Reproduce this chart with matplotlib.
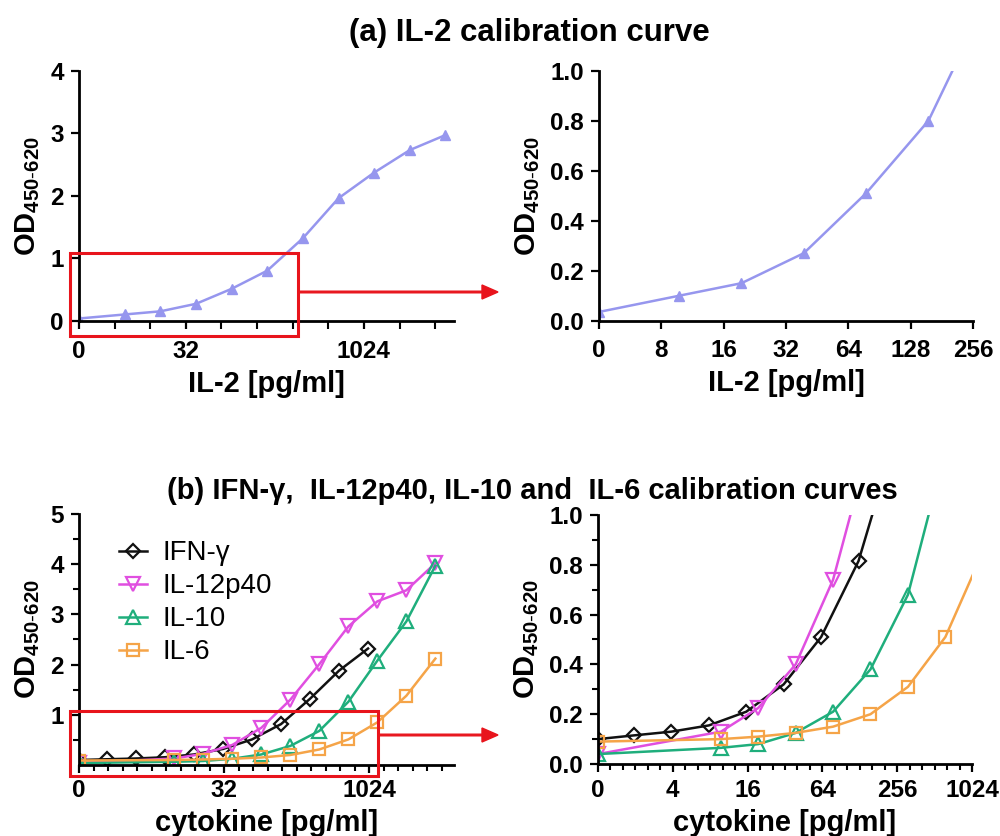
import numpy as np
import matplotlib
matplotlib.use("Agg")
import matplotlib.pyplot as plt
from matplotlib.patches import Rectangle, FancyArrow
from matplotlib.ticker import FixedLocator, NullFormatter

plt.rcParams['font.family'] = ['Liberation Sans', 'DejaVu Sans']
plt.rcParams['mathtext.fontset'] = 'custom'
plt.rcParams['mathtext.rm'] = 'Liberation Sans'
plt.rcParams['mathtext.bf'] = 'Liberation Sans:bold'

# IL-2 standard curve
il2_conc = [0, 9.77, 19.5, 39, 78, 156, 312.5, 625, 1250, 2500, 5000]
il2_od = [0.035, 0.10, 0.15, 0.27, 0.51, 0.80, 1.32, 1.96, 2.37, 2.73, 2.97]

# IFN-g, IL-12p40, IL-10, IL-6 standard curves
ifng_conc = [0, 1.95, 3.9, 7.8, 15.6, 31.25, 62.5, 125, 250, 500, 1000]
ifng_od = [0.10, 0.115, 0.13, 0.155, 0.21, 0.32, 0.51, 0.815, 1.32, 1.88, 2.32]
cyt_conc = [0, 9.77, 19.5, 39, 78, 156, 312.5, 625, 1250, 2500, 5000]
il12_od = [0.04, 0.13, 0.225, 0.40, 0.74, 1.30, 2.01, 2.76, 3.26, 3.48, 4.02]
il10_od = [0.04, 0.065, 0.08, 0.125, 0.21, 0.38, 0.68, 1.26, 2.08, 2.86, 3.97]
il6_od = [0.09, 0.10, 0.11, 0.125, 0.15, 0.20, 0.31, 0.51, 0.85, 1.38, 2.12]

series_names = ["IFN-\u03b3", "IL-12p40", "IL-10", "IL-6"]

IL2_COLOR = "#9696ee"
COLORS = ["#111111", "#e04fe0", "#1fae7c", "#f5a448"]
MARKERS = ["D", "v", "^", "s"]
MSIZES = [7, 10, 10, 8.5]

TICK_FS = 17.5
LABEL_FS = 21
YLABEL = r"$\mathbf{OD}_{\mathbf{450\text{-}620}}$"


# log2 axis where 0 is drawn at the position of `zero_at`
def set_log2_axis(ax, zero_at, xmax, majors, minors, minor_len):
  fwd = lambda x: np.log2(np.maximum(x, zero_at))
  inv = lambda y: 2.0 ** y
  ax.set_xscale('function', functions=(fwd, inv))
  ax.set_xlim(0, xmax)
  ax.xaxis.set_major_locator(FixedLocator(majors))
  ax.set_xticklabels([str(m) for m in majors])
  ax.xaxis.set_minor_locator(FixedLocator([m for m in minors if m not in majors]))
  ax.xaxis.set_minor_formatter(NullFormatter())
  ax.tick_params(axis='x', which='minor', length=minor_len, width=1.5)


def style_axes(ax, xlabel, xpad):
  for s in ['top', 'right']:
    ax.spines[s].set_visible(False)
  for s in ['left', 'bottom']:
    ax.spines[s].set_linewidth(2)
  ax.tick_params(which='major', length=6, width=1.6, labelsize=TICK_FS)
  ax.tick_params(axis='x', which='major', pad=xpad)
  ax.tick_params(axis='y', which='major', pad=5)
  ax.tick_params(axis='y', which='minor', length=4, width=1.5)
  for lab in ax.get_xticklabels() + ax.get_yticklabels():
    lab.set_fontweight('bold')
  ax.set_xlabel(xlabel, fontsize=LABEL_FS, fontweight='bold', labelpad=5)
  ax.set_ylabel(YLABEL, fontsize=LABEL_FS, labelpad=6)


fig = plt.figure(figsize=(10, 8.36), dpi=100)
ax1 = fig.add_axes([0.079, 0.6164, 0.375, 0.299])
ax2 = fig.add_axes([0.599, 0.6164, 0.374, 0.299])
ax3 = fig.add_axes([0.079, 0.0849, 0.375, 0.3003])
ax4 = fig.add_axes([0.598, 0.0861, 0.374, 0.2979])

# (a) full IL-2 curve
for ax in [ax1, ax2]:
  ax.plot(il2_conc, il2_od, '-^', color=IL2_COLOR, lw=1.8, ms=7, mec=IL2_COLOR, mfc=IL2_COLOR)
set_log2_axis(ax1, 4, 2 ** 12.53, [0, 32, 1024], 2.0 ** np.arange(3, 13), 6)
ax1.set_ylim(0, 4)
ax1.yaxis.set_major_locator(FixedLocator([0, 1, 2, 3, 4]))
style_axes(ax1, "IL-2 [pg/ml]", 8)

set_log2_axis(ax2, 4, 256, [0, 8, 16, 32, 64, 128, 256], [], 6)
ax2.set_ylim(0, 1.0)
ax2.yaxis.set_major_locator(FixedLocator(np.arange(0, 1.01, 0.2)))
ax2.set_yticklabels(["%.1f" % v for v in np.arange(0, 1.01, 0.2)])
style_axes(ax2, "IL-2 [pg/ml]", 7)

# (b) other cytokines
all_od = [ifng_od, il12_od, il10_od, il6_od]
all_conc = [ifng_conc, cyt_conc, cyt_conc, cyt_conc]
for ax in [ax3, ax4]:
  for conc, od, name, c, m, ms in zip(all_conc, all_od, series_names, COLORS, MARKERS, MSIZES):
    ax.plot(conc, od, '-', marker=m, color=c, lw=1.8, ms=ms, mfc='none', mec=c, mew=1.6, label=name)

set_log2_axis(ax3, 1, 2 ** 12.93, [0, 32, 1024], 2.0 ** (np.arange(1, 26) / 2.0), 4)
ax3.set_ylim(0, 5)
ax3.yaxis.set_major_locator(FixedLocator([1, 2, 3, 4, 5]))
ax3.yaxis.set_minor_locator(FixedLocator(np.arange(0.5, 5, 1.0)))
style_axes(ax3, "cytokine [pg/ml]", 4)
ax3.legend(loc='upper left', bbox_to_anchor=(0.07, 0.95), frameon=False, fontsize=20,
           handlelength=1.0, handletextpad=0.55, labelspacing=0.25, borderpad=0)

set_log2_axis(ax4, 1, 1024, [0, 4, 16, 64, 256, 1024], 2.0 ** (np.arange(1, 31) / 3.0), 4)
ax4.set_ylim(0, 1.0)
ax4.yaxis.set_major_locator(FixedLocator(np.arange(0, 1.01, 0.2)))
ax4.set_yticklabels(["%.1f" % v for v in np.arange(0, 1.01, 0.2)])
ax4.yaxis.set_minor_locator(FixedLocator(np.arange(0.1, 1.0, 0.2)))
style_axes(ax4, "cytokine [pg/ml]", 5)

# panel titles
fig.text(0.529, 0.960, "(a) IL-2 calibration curve", ha='center', va='center',
         fontsize=22.5, fontweight='bold')
fig.text(0.532, 0.413, "(b) IFN-\u03b3,  IL-12p40, IL-10 and  IL-6 calibration curves",
         ha='center', va='center', fontsize=21, fontweight='bold')

# zoom boxes and arrows (figure coords)
RED = "#e8141c"
W, H = 1000.0, 836.0
def zoom_box(x0, x1, ytop, ybot, yarrow, xend):
  fig.add_artist(Rectangle((x0 / W, 1 - ybot / H), (x1 - x0) / W, (ybot - ytop) / H,
                           transform=fig.transFigure, fill=False, ec=RED, lw=2.2))
  fig.add_artist(FancyArrow(x1 / W, 1 - yarrow / H, (xend - x1) / W, 0,
                            transform=fig.transFigure, width=1.6 / H, head_width=14 / H,
                            head_length=16 / W, length_includes_head=True, color=RED))

zoom_box(70, 298, 253, 336, 292, 498)
zoom_box(70, 378, 711, 776, 735, 498)

fig.savefig("out.png", dpi=100)
